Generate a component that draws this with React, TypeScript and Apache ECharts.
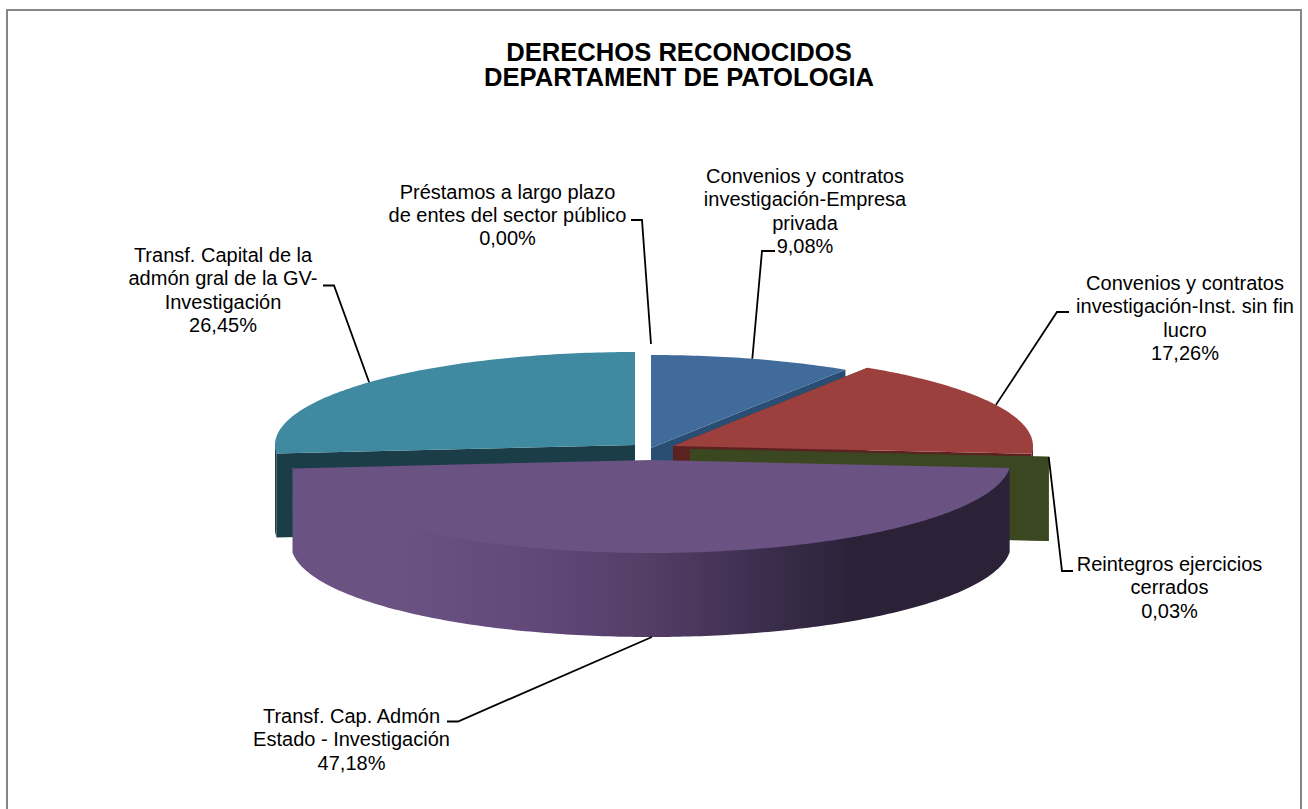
import React, { useEffect, useRef } from "react";
import * as echarts from "echarts";

const titleText = "DERECHOS RECONOCIDOS\nDEPARTAMENT DE PATOLOGIA";
const categories = [
  "Convenios y contratos\ninvestigación-Empresa\nprivada",
  "Convenios y contratos\ninvestigación-Inst. sin fin\nlucro",
  "Reintegros ejercicios\ncerrados",
  "Transf. Cap. Admón\nEstado - Investigación",
  "Transf. Capital de la\nadmón gral de la GV-\nInvestigación",
  "Préstamos a largo plazo\nde entes del sector público",
];
const values = [9.08, 17.26, 0.03, 47.18, 26.45, 0.0];

// Layout and style only (pixel geometry of the projected pie)
const RX = 360;
const RY = 93;
const DEPTH = 84;
const centers = [
  [651, 448],
  [673, 446],
  [690, 449],
  [651, 460],
  [635, 445],
  [651, 437],
];
const topColors = ["#416B9B", "#9C403E", "#3A4720", "#6A5283", "#3F8AA1", "#888888"];
const sideColors = ["#2A4E73", "#5C2220", "#3A4720", "#6A5283", "#1B3D47", "#888888"];
const paintOrder = [0, 1, 2, 4, 3, 5];
const labelCenters = [
  [805, 176],
  [1185, 283],
  [1169.5, 564],
  [351.5, 716],
  [223, 255],
  [507.5, 191.5],
];
const leaderEnds = [
  [[775, 251], [762, 251]],
  [[1069, 312], [1057, 312]],
  [[1073, 571], [1062, 571]],
  [[447, 721.5], [458, 721.5]],
  [[323, 285.5], [334, 285.5]],
  [[631, 220], [642, 220]],
];
const anchorDrop = [0, 0, 0, 1, 0, 0];

const total = values.reduce((a, b) => a + b, 0);
const starts: number[] = [];
values.reduce((acc, v, i) => {
  starts[i] = (acc / total) * 2 * Math.PI;
  return acc + v;
}, 0);
const sweep = (i: number) => (values[i] / total) * 2 * Math.PI;

const pt = (i: number, a: number, drop = 0) => [
  centers[i][0] + RX * Math.sin(a),
  centers[i][1] - RY * Math.cos(a) + drop,
];
const arc = (i: number, a0: number, a1: number, drop = 0) => {
  const n = Math.max(1, Math.ceil(Math.abs(a1 - a0) / 0.015));
  const out: number[][] = [];
  for (let k = 0; k <= n; k++) out.push(pt(i, a0 + ((a1 - a0) * k) / n, drop));
  return out;
};

const purpleSide = new echarts.graphic.LinearGradient(0, 0, 1, 0, [
  { offset: 0, color: "#6A5283" },
  { offset: 0.15, color: "#6A5283" },
  { offset: 0.33, color: "#62497A" },
  { offset: 0.5, color: "#533E66" },
  { offset: 0.64, color: "#3E2F50" },
  { offset: 0.78, color: "#2C2238" },
  { offset: 1, color: "#2C2238" },
]);

function renderSlice(_: any, api: any) {
  const i = api.value(0);
  if (values[i] === 0) return { type: "group", children: [] };
  const a0 = starts[i];
  const a1 = a0 + sweep(i);
  const c = centers[i];
  const side = i === 3 ? purpleSide : sideColors[i];
  const cut = (a: number) => {
    const e = pt(i, a);
    return {
      type: "polygon",
      silent: true,
      shape: { points: [c, e, [e[0], e[1] + DEPTH], [c[0], c[1] + DEPTH]] },
      style: { fill: sideColors[i] },
    };
  };
  const children: any[] = [];
  if (i !== 3) children.push(cut(a0), cut(a1));
  const f0 = Math.max(a0, Math.PI / 2);
  const f1 = Math.min(a1, (3 * Math.PI) / 2);
  if (f1 > f0) {
    children.push({
      type: "polygon",
      silent: true,
      // the wall tucks 2px under the top face so no seam shows between them
      shape: { points: [...arc(i, f0, f1, -2), ...arc(i, f1, f0, DEPTH)] },
      style: { fill: side },
    });
  }
  children.push({
    type: "polygon",
    silent: true,
    shape: { points: [c, ...arc(i, a0, a1)] },
    style: { fill: topColors[i] },
  });
  return { type: "group", children };
}

function renderLabel(_: any, api: any) {
  const i = api.value(0);
  const mid = starts[i] + sweep(i) / 2;
  const anchor = pt(i, mid, anchorDrop[i] * DEPTH);
  const pct = values[i].toFixed(2).replace(".", ",") + "%";
  return {
    type: "group",
    children: [
      {
        type: "polyline",
        silent: true,
        shape: { points: [...leaderEnds[i], anchor] },
        style: { stroke: "#000000", lineWidth: 1.8, fill: "none" },
      },
      {
        type: "text",
        silent: true,
        x: labelCenters[i][0],
        y: labelCenters[i][1] - 11.5,
        style: {
          text: categories[i] + "\n" + pct,
          fontFamily: "Liberation Sans",
          fontSize: 20,
          lineHeight: 23.3,
          fill: "#000000",
          align: "center",
          verticalAlign: "top",
        },
      },
    ],
  };
}

export default function App() {
  const ref = useRef<HTMLDivElement>(null);
  useEffect(() => {
    const chart = echarts.init(ref.current!, null, { renderer: "svg" });
    chart.setOption({
      animation: false,
      backgroundColor: "#ffffff",
      title: {
        text: titleText,
        left: 674,
        top: 34,
        textAlign: "center",
        textStyle: {
          fontFamily: "Liberation Sans",
          fontSize: 25.6,
          fontWeight: "bold",
          lineHeight: 25.5,
          color: "#000000",
        },
      },
      graphic: [
        {
          type: "rect",
          silent: true,
          z: -1,
          shape: { x: 7, y: 10, width: 1294, height: 830 },
          style: { fill: "none", stroke: "#868686", lineWidth: 2 },
        },
      ],
      series: [
        {
          type: "custom",
          name: "slices",
          coordinateSystem: "none",
          silent: true,
          data: paintOrder.map((i) => [i, values[i]]),
          renderItem: renderSlice,
          z: 2,
        },
        {
          type: "custom",
          name: "labels",
          coordinateSystem: "none",
          silent: true,
          data: values.map((v, i) => [i, v]),
          renderItem: renderLabel,
          z: 3,
        },
      ],
    });
    return () => chart.dispose();
  }, []);
  return (
    <div
      ref={ref}
      style={{ position: "fixed", left: 0, top: 0, width: 1308, height: 809 }}
    />
  );
}
